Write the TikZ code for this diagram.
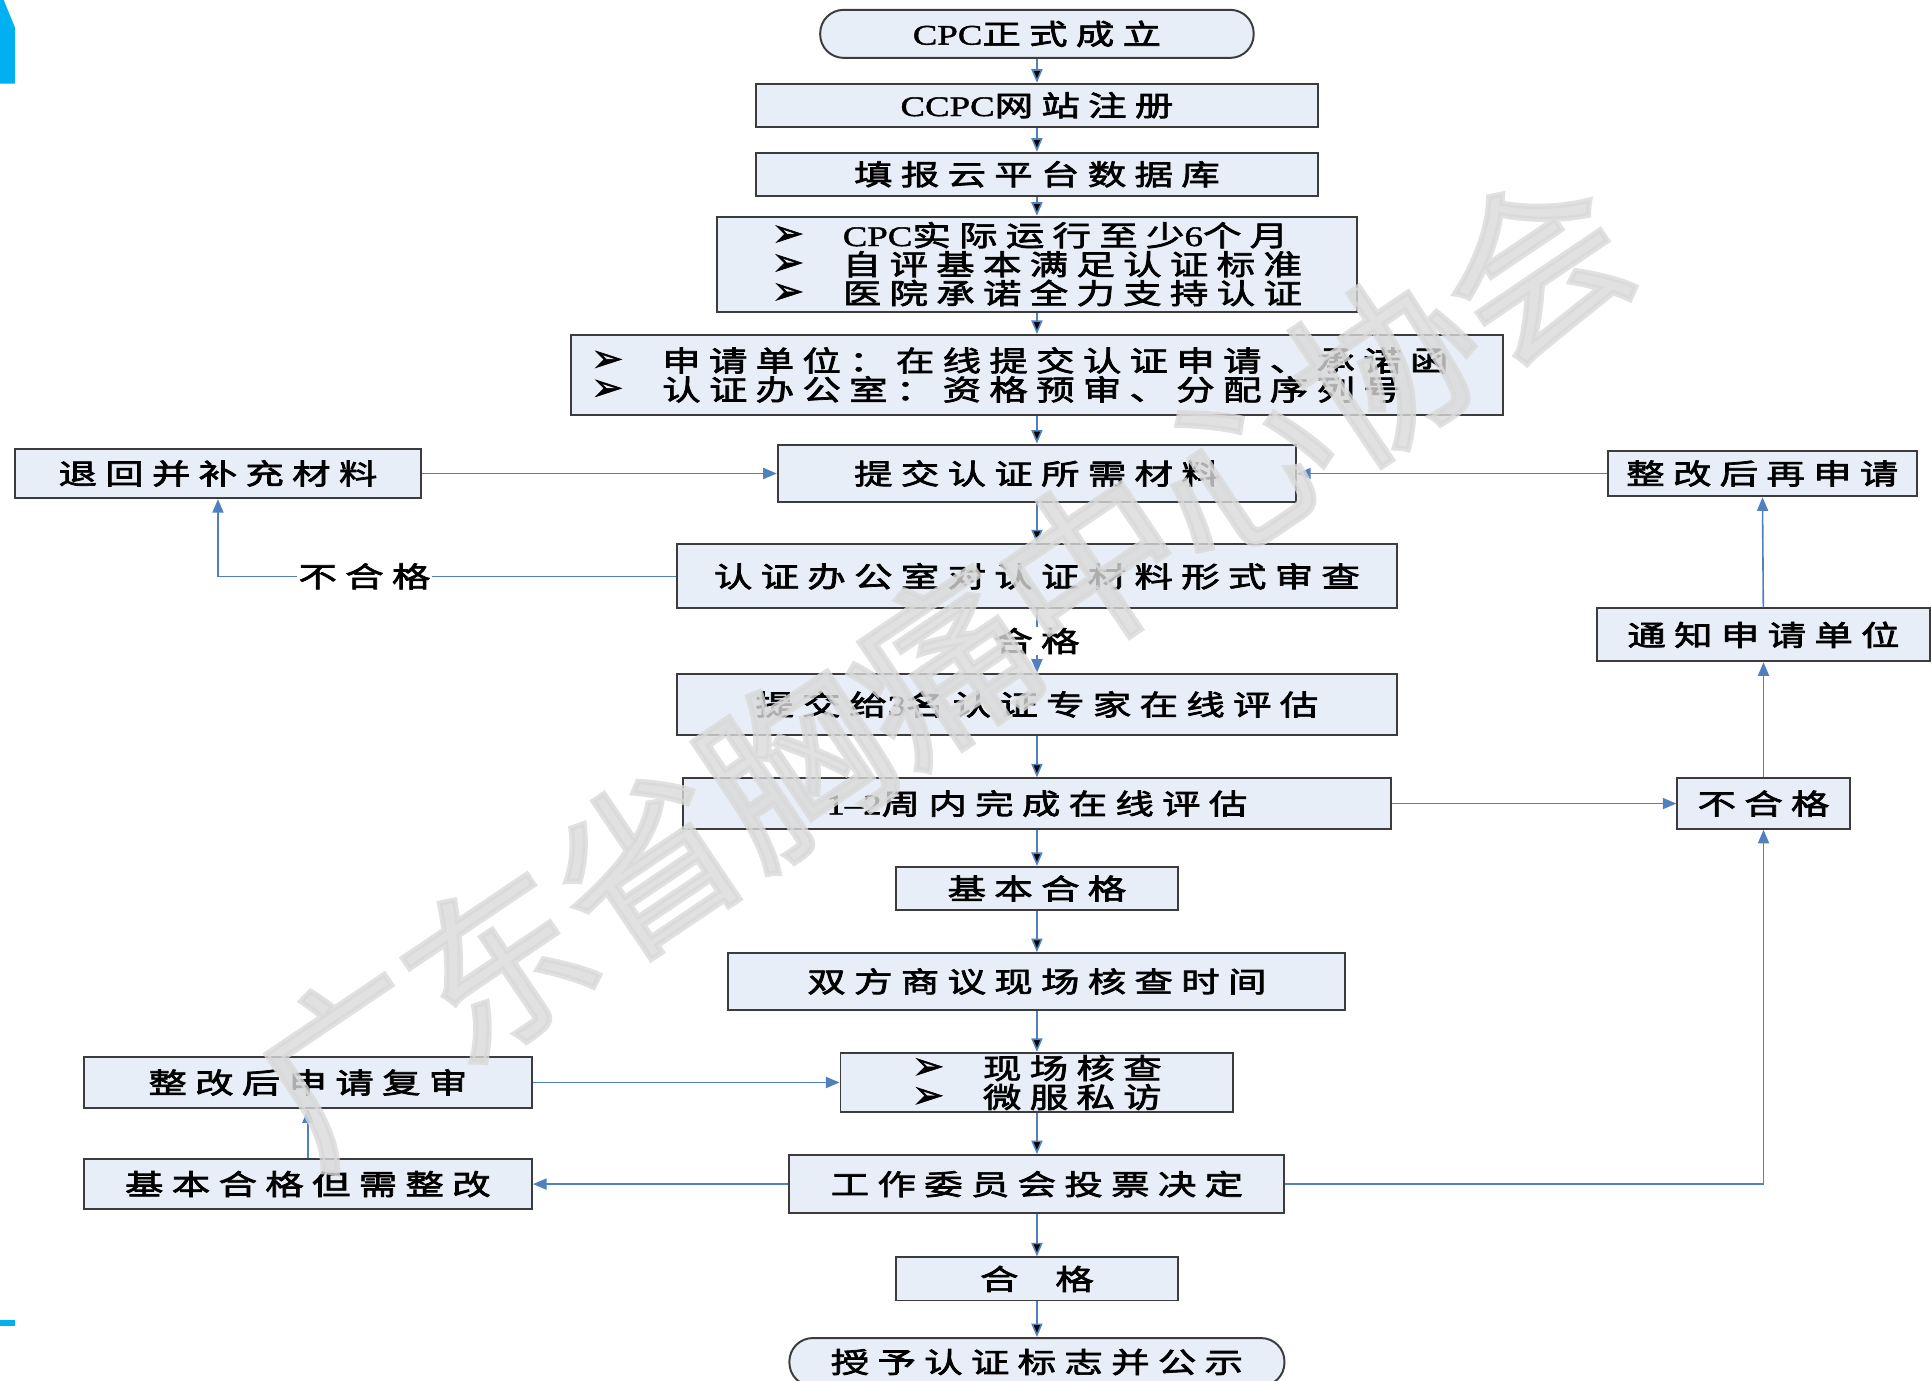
\documentclass[tikz,border=0pt]{standalone}
\usepackage{fontspec}
\setmainfont{Noto Sans CJK SC}[FakeStretch=1.36,LetterSpace=29,FakeBold=2.5]
\newfontfamily\lat{Liberation Serif}[FakeStretch=1.3,FakeBold=1.5]
\newfontfamily\sym{DejaVu Sans}[FakeBold=1.5]
\newfontfamily\wmfont{Noto Sans CJK SC}[FakeBold=3]
\usetikzlibrary{arrows.meta,positioning}

\definecolor{boxfill}{HTML}{E8EEF7}
\definecolor{boxline}{HTML}{3C3C3C}
\definecolor{linkblue}{HTML}{5080BE}
\definecolor{edgecyan}{HTML}{00B0F0}

\newcommand\cnsize{\fontsize{23}{23.5}\selectfont}
\newcommand\bul{\makebox[2.5em][l]{\sym\fontsize{31}{23.5}\selectfont ➢}}

\begin{document}
\begin{tikzpicture}[x=1pt, y=-1pt, on grid, inner sep=0pt,
    box/.style={draw=boxline, fill=boxfill, line width=1.6pt, font=\cnsize},
    term/.style={box, rounded corners=19pt},
    link/.style={draw=linkblue, line width=1.3pt, -{Triangle[length=11pt,width=9pt]}},
    lbl/.style={fill=white, inner sep=1pt, font=\cnsize}]
\useasboundingbox (0,0) rectangle (1568,1121);

% main column
\node[term, minimum width=352pt, minimum height=39pt] (start) at (842,27.5) {{\lat CPC}正式成立};
\node[box, minimum width=456pt, minimum height=35pt, below=58pt of start] (reg) {{\lat CCPC}网站注册};
\node[box, minimum width=456pt, minimum height=35pt, below=56pt of reg] (fill) {填报云平台数据库};
\node[box, minimum width=519pt, minimum height=77pt, below=73pt of fill, align=left] (cond)
  {\bul{\lat CPC}实际运行至少{\lat 6}个月\\ \bul 自评基本满足认证标准\\ \bul 医院承诺全力支持认证};
\node[box, minimum width=757pt, minimum height=65pt, below=90pt of cond, align=left] (apply)
  {\bul 申请单位：在线提交认证申请、承诺函\makebox[1.2em]{}\\ \bul 认证办公室：资格预审、分配序列号};
\node[box, minimum width=421pt, minimum height=47pt, below=80pt of apply] (submit) {提交认证所需材料};
\node[box, minimum width=585pt, minimum height=52pt, below=83.5pt of submit] (check) {认证办公室对认证材料形式审查};
\node[box, minimum width=585pt, minimum height=50pt, below=104pt of check] (expert) {提交给{\lat 3}名认证专家在线评估};
\node[box, minimum width=575pt, minimum height=41pt, below=80.5pt of expert] (online) {{\lat 1–2}周内完成在线评估};
\node[box, minimum width=229pt, minimum height=35pt, below=69pt of online] (basic) {基本合格};
\node[box, minimum width=501pt, minimum height=46pt, below=75.5pt of basic] (date) {双方商议现场核查时间};
\node[box, minimum width=319pt, minimum height=48pt, below=82pt of date, align=left] (visit)
  {\bul 现场核查\\ \bul 微服私访};
\node[box, minimum width=402pt, minimum height=47pt, below=82.5pt of visit] (vote) {工作委员会投票决定};
\node[box, minimum width=229pt, minimum height=35pt, below=77pt of vote] (pass) {合\hspace{1.3em}格};
\node[term, minimum width=402pt, minimum height=39pt, below=67.5pt of pass] (grant) {授予认证标志并公示};

% side boxes
\node[box, minimum width=330pt, minimum height=40pt, left=665pt of submit] (back) {退回并补充材料};
\node[box, minimum width=251pt, minimum height=37pt, right=589pt of submit] (reapply) {整改后再申请};
\node[box, minimum width=140pt, minimum height=41pt, right=590pt of online] (fail) {不合格};
\node[box, minimum width=271pt, minimum height=43pt, above=137pt of fail] (notify) {通知申请单位};
\node[box, minimum width=364pt, minimum height=42pt, left=592pt of visit] (review) {整改后申请复审};
\node[box, minimum width=364pt, minimum height=41pt, left=592pt of vote] (rectify) {基本合格但需整改};

% connectors
\path[link] (start) edge (reg)
  (reg) edge (fill)
  (fill) edge (cond)
  (cond) edge (apply)
  (apply) edge (submit)
  (submit) edge (check)
  (expert) edge (online)
  (online) edge (basic)
  (basic) edge (date)
  (date) edge (visit)
  (visit) edge (vote)
  (vote) edge (pass)
  (pass) edge (grant);
\draw[link] (check) -- node[lbl] {合格} (expert);
\draw[link] (check.west) -| node[lbl, pos=0.34] {不合格} (back.south);
\draw[link] (back) -- (submit);
\draw[link] (reapply) -- (submit);
\draw[link] (online) -- (fail);
\draw[link] (fail) -- (notify);
\draw[link] (notify) -- (reapply);
\draw[link] (vote.east) -| (fail.south);
\draw[link] (vote) -- (rectify);
\draw[link] (rectify) -- (review);
\draw[link] (review) -- (visit);

% page edge marks
\fill[edgecyan] (0,0) -- (3,0) -- (12,22) -- (12,68) -- (0,68) -- cycle;
\fill[edgecyan] (0,1072) rectangle (12,1077);

% watermark
\node[rotate=34, text=black!15, opacity=0.8, font=\wmfont\fontsize{145}{145}\selectfont] (mark) at (765,540) {广东省胸痛中心协会};
\end{tikzpicture}
\end{document}
